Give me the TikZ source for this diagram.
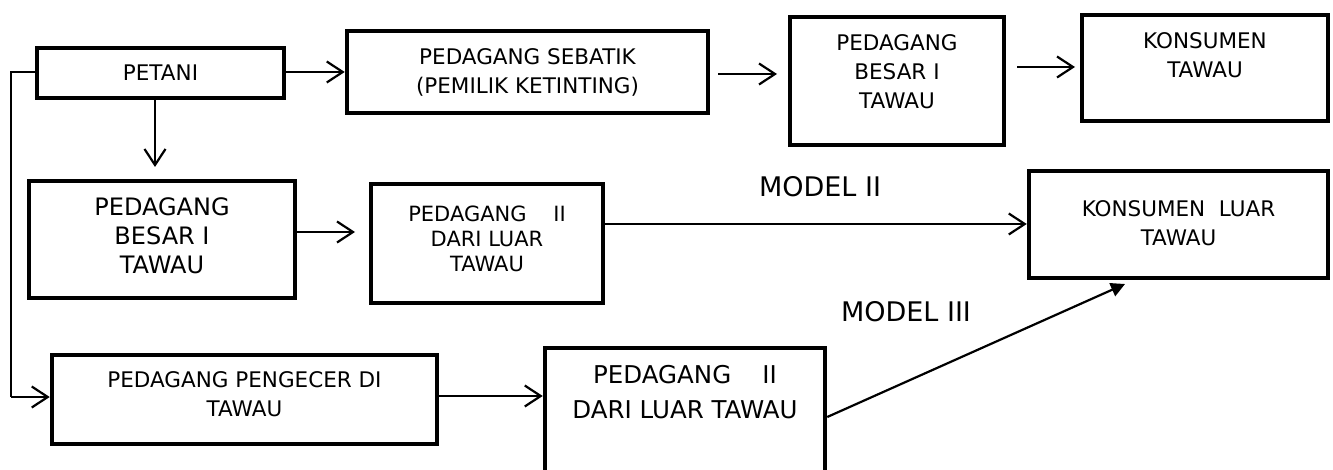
\documentclass[tikz,border=0pt]{standalone}
\usepackage{fontspec}
\setmainfont{DejaVu Sans}
\usetikzlibrary{arrows.meta}
\begin{document}
\begin{tikzpicture}[x=1pt,y=-1pt,
  box/.style={draw, line width=4.5pt, inner sep=0pt},
  txt/.style={align=center, inner sep=0pt},
  fa/.style={font=\fontsize{21.5}{29}\selectfont},
  fb/.style={font=\fontsize{24}{29}\selectfont},
  fc/.style={font=\fontsize{21}{25}\selectfont},
  fd/.style={font=\fontsize{24.5}{35}\selectfont},
  fm/.style={font=\fontsize{27}{30}\selectfont},
  conn/.style={line width=2.2pt, -{Straight Barb[length=16pt,width=21pt]}},
  plain/.style={line width=2.2pt},
  tri/.style={line width=2.2pt, -{Triangle[length=14pt,width=14pt]}}]
\useasboundingbox (0,0) rectangle (1333,470);
% boxes
\node[box, minimum width=247pt, minimum height=50pt] (petani) at (160.5,73) {};
\node[box, minimum width=361pt, minimum height=82pt] (sebatik) at (527.5,72) {};
\node[box, minimum width=214pt, minimum height=128pt] (besarA) at (897,81) {};
\node[box, minimum width=246pt, minimum height=106pt] (konsA) at (1205,68) {};
\node[box, minimum width=299pt, minimum height=107pt] (konsB) at (1178.5,224.5) {};
\node[box, minimum width=266pt, minimum height=117pt] (besarB) at (162,239.5) {};
\node[box, minimum width=232pt, minimum height=119pt] (luarA) at (487,243.5) {};
\node[box, minimum width=385pt, minimum height=89pt] (ecer) at (244.5,399.5) {};
\node[box, minimum width=280pt, minimum height=144pt] (luarB) at (685,420) {};
% texts
\node[txt, fa] (tpetani) at (160.5,73) {PETANI};
\node[txt, fa] (tsebatik) at (527.5,72) {PEDAGANG SEBATIK\\(PEMILIK KETINTING)};
\node[txt, fa] (tbesarA) at (897,71.5) {PEDAGANG\\BESAR I\\TAWAU};
\node[txt, fa] (tkonsA) at (1205,55) {KONSUMEN\\TAWAU};
\node[txt, fa] (tkonsB) at (1178.5,223.5) {KONSUMEN\ \ LUAR\\TAWAU};
\node[txt, fb] (tbesarB) at (162,236) {PEDAGANG\\BESAR I\\TAWAU};
\node[txt, fc] (tluarA) at (487,239) {PEDAGANG\ \ \ \ II\\DARI LUAR\\TAWAU};
\node[txt, fa] (tecer) at (244.5,394) {PEDAGANG PENGECER DI\\TAWAU};
\node[txt, fd] (tluarB) at (685,392.5) {PEDAGANG\ \ \ \ II\\DARI LUAR TAWAU};
\node[txt, fm] (m2) at (820,187) {MODEL II};
\node[txt, fm] (m3) at (906,312) {MODEL III};
% free arrow ends
\coordinate (d1) at (155,100);
\coordinate (d2) at (155,167);
\coordinate (s1) at (718,74);
\coordinate (s2) at (777,74);
\coordinate (k1) at (1017,67);
\coordinate (k2) at (1075,67);
\coordinate (b2) at (355,232);
\coordinate (c1) at (11,72);
\coordinate (c2) at (11,397);
\coordinate (tip) at (1125,284);
% connectors
\draw[conn] (petani.east |- 0,72) -- (sebatik.west |- 0,72);
\draw[conn] (d1) -- (d2);
\draw[conn] (s1) -- (s2);
\draw[conn] (k1) -- (k2);
\draw[conn] (besarB.east |- b2) -- (b2);
\draw[conn] (luarA.east |- 0,224) -- (konsB.west |- 0,224);
\draw[plain] (petani.west |- c1) -- (c1) -- (c2);
\draw[conn] (c2) -- (ecer.west |- c2);
\draw[conn] (ecer.east |- 0,396) -- (luarB.west |- 0,396);
\draw[tri] (luarB.east |- 0,417) -- (tip);
\end{tikzpicture}
\end{document}
